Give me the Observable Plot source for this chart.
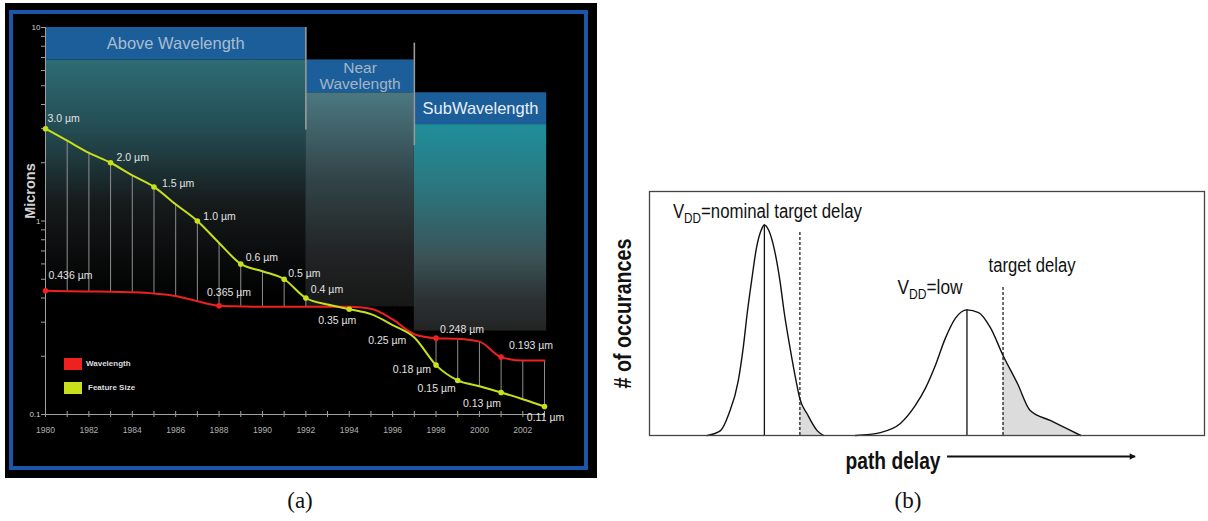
<!DOCTYPE html>
<html><head><meta charset="utf-8">
<script src="https://cdn.jsdelivr.net/npm/d3@7"></script>
<script src="https://cdn.jsdelivr.net/npm/@observablehq/plot@0.6"></script>
<style>
html,body{margin:0;padding:0;background:#fff;}
#root{position:relative;width:1208px;height:521px;overflow:hidden;background:#fff;}
.abs{position:absolute;}
.leg{position:absolute;font:bold 8px 'Liberation Sans',Arial,sans-serif;color:#ddd;line-height:10px;}
.cap{position:absolute;font:23px 'Liberation Serif','DejaVu Serif',serif;color:#111;transform:translateX(-50%);}
</style></head><body><div id="root"></div>
<script>
// ================= Panel (a): lithography wavelength vs feature size =================
const years = [1980,1981,1982,1983,1984,1985,1986,1987,1988,1989,1990,1991,1992,1993,1994,1995,1996,1997,1998,1999,2000,2001,2002,2003];
const wavelength = [0.436,0.434,0.432,0.431,0.428,0.422,0.41,0.385,0.365,0.362,0.36,0.36,0.36,0.36,0.36,0.352,0.31,0.26,0.248,0.246,0.238,0.198,0.19,0.19];
const featureSize = [3.0,2.6,2.25,2.0,1.72,1.5,1.22,1.0,0.77,0.6,0.55,0.5,0.4,0.37,0.35,0.33,0.29,0.25,0.18,0.15,0.14,0.13,0.12,0.11];
const featureLabelYears = [1980,1983,1985,1987,1989,1991,1992,1994,1997,1998,1999,2001,2003];
const featureLabels = ["3.0 µm","2.0 µm","1.5 µm","1.0 µm","0.6 µm","0.5 µm","0.4 µm","0.35 µm","0.25 µm","0.18 µm","0.15 µm","0.13 µm","0.11 µm"];
const featureDotYears = [1980,1983,1985,1987,1989,1991,1992,1994,1998,1999,2001,2003];
const wavelengthLabelYears = [1980,1988,1998,2001];
const wavelengthLabels = ["0.436 µm","0.365 µm","0.248 µm","0.193 µm"];
const connectorYears = [1981,1982,1983,1984,1985,1986,1987,1988,1989,1990,1991,1992,1998,1999,2000,2001,2002,2003];
const regionNames = ["Above Wavelength","Near\nWavelength","SubWavelength"];
const regionFrom = [1980,1992,1997];
const regionTo = [1992,1997,2003.1];
const headerTop = [10,6.8,4.6];
const headerBottom = [6.8,4.6,3.15];
const bodyBottom = [0.39,0.36,0.27];
const dividerYears = [1992,1997];
const dividerTop = [10,8.3];
const dividerBottom = [2.95,2.45];
const yTicks = [0.1,0.2,0.3,0.4,0.5,0.6,0.7,0.8,0.9,1,2,3,4,5,6,7,8,9,10];
const yTickLabels = [0.1,1,10];
const legendNames = ["Wavelength","Feature Size"];

// ================= Panel (b): path delay distributions =================
const nominalDelay = [10.4,12.8,14.3,16.0,16.9,17.6,18.4,19.3,20.1,20.7,21.5,22.4,23.5,24.3,25.3,26.4,27.1,28.4,30.2,31.4];
const nominalCount = [0,0.02,0.089,0.225,0.362,0.5,0.635,0.772,0.84,0.863,0.84,0.772,0.635,0.5,0.362,0.225,0.15,0.089,0.02,0];
const lowDelay = [37.1,41.6,45.2,47.9,49.7,51.5,53.3,55.1,57.2,59.3,61.4,63.7,66.3,68.6,72.3,75.3,77.7];
const lowCount = [0,0.012,0.049,0.123,0.193,0.287,0.398,0.48,0.515,0.504,0.443,0.328,0.213,0.102,0.061,0.027,0];
const peakDelay = [20.7,57.2];
const peakCount = [0.863,0.515];
const targetDelay = [27.1,63.7];
const targetTop = [0.84,0.61];
const peakTexts = ["V_DD=nominal target delay","V_DD=low"];
const targetText = "target delay";
const yLabelB = "# of occurances";
const xLabelB = "path delay";
const arrowFrom = 53.7, arrowTo = 87.6, arrowLevel = -0.086;

// ---------------- build panel (a) ----------------
const A = years.map((year,i)=>({year, wavelength: wavelength[i], feature: featureSize[i]}));
const byYear = new Map(A.map(d=>[d.year,d]));
const regions = regionNames.map((name,i)=>({name, from: regionFrom[i], to: regionTo[i], top: headerTop[i], hb: headerBottom[i], bottom: bodyBottom[i]}));
const dividers = dividerYears.map((year,i)=>({year, top: dividerTop[i], bottom: dividerBottom[i]}));
const fLab = featureLabelYears.map((y,i)=>({year:y, v: byYear.get(y).feature, text: featureLabels[i]}));
const wLab = wavelengthLabelYears.map((y,i)=>({year:y, v: byYear.get(y).wavelength, text: wavelengthLabels[i]}));
const yellow = "#c8e01c", red = "#ee2020";
// label layout: [textAnchor, dx, dy]
const fLayout = [["start",2,-10],["start",6,-5],["start",8,-3],["start",6,-4],["start",5,-6],["start",4,-6],["start",5,-8],["middle",-12,11],["end",-8,3],["end",-5,5],["end",-2,8],["end",0,11],["middle",1,11]];
const wLayout = [["start",3,-15],["start",-12,-13],["start",4,-9],["start",8,-11]];
const regionTextFill = ["#a9bdd0","#a3b5c6","#e8eef4"];
const regionFont = [16.5,15.5,16.5];
const labFont = 10.5;

const plotA = Plot.plot({
  width: 592, height: 475, marginLeft: 40, marginRight: 53, marginTop: 24, marginBottom: 64,
  style: {background:"#000", color:"#bbb", fontFamily:"'Liberation Sans', Arial, sans-serif", overflow:"visible"},
  x: {domain:[1980,2003]},
  y: {type:"log", domain:[0.1,10]},
  marks: [
    ...regions.map((r,i)=>Plot.rect([r], {x1:"from", x2:"to", y1:"bottom", y2:"hb", fill:`url(#regGrad${i})`})),
    Plot.rect(regions, {x1:"from", x2:"to", y1:"hb", y2:"top", fill:"#1b5e9a"}),
    ...regions.map((r,i)=>Plot.text([r], {x: d=>(d.from+d.to)/2, y: d=>Math.sqrt(d.top*d.hb), text:"name", fill: regionTextFill[i], fontSize:regionFont[i], lineHeight:1.03})),
    Plot.ruleX(dividers, {x:"year", y1:"bottom", y2:"top", stroke:"#9a9a9a", strokeWidth:1.6}),
    Plot.ruleX(A.filter(d=>connectorYears.includes(d.year)), {x:"year", y1:"wavelength", y2:"feature", stroke:"#8e8e8e", strokeWidth:1}),
    Plot.ruleX([years[0]], {stroke:"#a0a0a0", strokeWidth:1}),
    Plot.ruleY([yTickLabels[0]], {stroke:"#a0a0a0", strokeWidth:1}),
    Plot.axisY({ticks: yTicks, tickFormat: d => yTickLabels.includes(d) ? String(d) : "", tickSize:4, tickPadding:1, fontSize:8, stroke:"#a0a0a0", fill:"#cfcfcf", label:null}),
    Plot.axisX({ticks: years, tickFormat: d => d%2===0 ? String(d) : "", tickSize:6, dy:-3, tickPadding:9, fontSize:8.5, stroke:"#a0a0a0", fill:"#b0b0b0", label:null}),
    Plot.line(A, {x:"year", y:"wavelength", stroke:red, strokeWidth:2, curve:"monotone-x"}),
    Plot.line(A, {x:"year", y:"feature", stroke:yellow, strokeWidth:2, curve:"monotone-x"}),
    Plot.dot(A.filter(d=>featureDotYears.includes(d.year)), {x:"year", y:"feature", r:2.8, fill:yellow}),
    Plot.dot(wLab, {x:"year", y:"v", r:2.8, fill:red}),
    ...fLab.map((d,i)=>Plot.text([d], {x:"year", y:"v", text:"text", textAnchor:fLayout[i][0], dx:fLayout[i][1], dy:fLayout[i][2], fill:"#e2e2e2", fontSize:labFont})),
    ...wLab.map((d,i)=>Plot.text([d], {x:"year", y:"v", text:"text", textAnchor:wLayout[i][0], dx:wLayout[i][1], dy:wLayout[i][2], fill:"#e2e2e2", fontSize:labFont})),
    Plot.text(["Microns"], {frameAnchor:"left", textAnchor:"middle", rotate:-90, dx:-15, dy:-30, fontSize:14.5, fontWeight:"bold", fill:"#d2d2d2"})
  ]
});
plotA.insertAdjacentHTML("afterbegin", `<defs>
 <linearGradient id="regGrad0" x1="0" y1="0" x2="0" y2="1">
  <stop offset="0" stop-color="#2e6c75"/><stop offset="0.3" stop-color="#234b51"/><stop offset="0.6" stop-color="#161a1b"/><stop offset="1" stop-color="#000"/></linearGradient>
 <linearGradient id="regGrad1" x1="0" y1="0" x2="0" y2="1">
  <stop offset="0" stop-color="#4b7882"/><stop offset="0.4" stop-color="#324549"/><stop offset="0.75" stop-color="#222425"/><stop offset="1" stop-color="#171717"/></linearGradient>
 <linearGradient id="regGrad2" x1="0" y1="0" x2="0" y2="1">
  <stop offset="0" stop-color="#1f8e9a"/><stop offset="0.3" stop-color="#2b7780"/><stop offset="0.65" stop-color="#3a5256"/><stop offset="0.85" stop-color="#2b3133"/><stop offset="1" stop-color="#232323"/></linearGradient>
</defs>`);

// ---------------- build panel (b) ----------------
const nominal = nominalDelay.map((x,i)=>({delay:x, count:nominalCount[i]}));
const low = lowDelay.map((x,i)=>({delay:x, count:lowCount[i]}));
const peaks = peakDelay.map((x,i)=>({delay:x, count:peakCount[i], text: peakTexts[i]}));
const targets = targetDelay.map((x,i)=>({delay:x, top:targetTop[i]}));
const bFont = "'Liberation Sans', Arial, sans-serif";
const peakLayout = [[3,-7],[-37,-16]];
const plotB = Plot.plot({
  width: 608, height: 300, marginLeft: 49, marginRight: 4, marginTop: 11, marginBottom: 45,
  style: {background:"transparent", color:"#111", fontFamily: bFont, overflow:"visible"},
  x: {domain:[0,100], axis:null},
  y: {domain:[0,1], axis:null},
  marks: [
    Plot.areaY(nominal.filter(d=>d.delay>=targetDelay[0]), {x:"delay", y:"count", fill:"#dcdcdc", curve:"monotone-x"}),
    Plot.areaY(low.filter(d=>d.delay>=targetDelay[1]), {x:"delay", y:"count", fill:"#dcdcdc", curve:"monotone-x"}),
    Plot.line(nominal, {x:"delay", y:"count", stroke:"#111", strokeWidth:1.4, curve:"monotone-x"}),
    Plot.line(low, {x:"delay", y:"count", stroke:"#111", strokeWidth:1.4, curve:"monotone-x"}),
    Plot.ruleX(peaks, {x:"delay", y1:0, y2:"count", stroke:"#111", strokeWidth:1.3}),
    Plot.ruleX(targets, {x:"delay", y1:0, y2:"top", stroke:"#111", strokeWidth:1.2, strokeDasharray:"3,2"}),
    Plot.frame({stroke:"#444", strokeWidth:1.3}),
    ...peaks.map((d,i)=>Plot.text([d], {x:"delay", y:"count", text:"text", lineAnchor:"bottom", textAnchor:"middle", dx:peakLayout[i][0], dy:peakLayout[i][1], fontSize:20, fill:"#111"})),
    Plot.text([targets[1]], {x:"delay", y:"top", text:()=>targetText, lineAnchor:"bottom", dx:29, dy:-15, fontSize:20, fill:"#111"}),
    Plot.text([yLabelB], {frameAnchor:"left", textAnchor:"middle", rotate:-90, dx:-26, fontSize:23, fontWeight:"bold", fill:"#111"}),
    Plot.ruleY([arrowLevel], {x1:arrowFrom, x2:arrowTo, stroke:"#111", strokeWidth:2}),
    Plot.dot([arrowTo], {x:d=>d, y:()=>arrowLevel, symbol:"triangle2", rotate:90, r:3.2, dx:-4, fill:"#111"}),
    Plot.text([xLabelB], {x:()=>arrowFrom, y:()=>arrowLevel, textAnchor:"end", lineAnchor:"bottom", dx:-7, dy:13, fontSize:23, fontWeight:"bold", fill:"#111"})
  ]
});
// condensed lettering widths (the original uses a narrow typeface)
const narrowWidths = new Map([[peakTexts[0],189],[peakTexts[1],65],[targetText,87],[yLabelB,150],[xLabelB,95]]);
const ns = "http://www.w3.org/2000/svg";
plotB.querySelectorAll("text").forEach(t=>{
  const s = t.textContent;
  if (narrowWidths.has(s)) {
    t.setAttribute("textLength", narrowWidths.get(s));
    t.setAttribute("lengthAdjust", "spacingAndGlyphs");
  }
  if (s.includes("_DD")) {
    const [pre, rest] = s.split("_DD");
    t.textContent = "";
    t.appendChild(document.createTextNode(pre));
    const sub = document.createElementNS(ns,"tspan");
    sub.setAttribute("baseline-shift","-5"); sub.setAttribute("font-size","14"); sub.textContent = "DD";
    t.appendChild(sub);
    t.appendChild(document.createTextNode(rest));
  }
});

// ---------------- assemble ----------------
const root = document.getElementById("root");
const wrapA = document.createElement("div"); wrapA.className="abs"; wrapA.style.left="5px"; wrapA.style.top="3px";
wrapA.appendChild(plotA); root.appendChild(wrapA);
const border = document.createElement("div"); border.className="abs";
Object.assign(border.style,{left:"9px",top:"10px",width:"571px",height:"452px",border:"4px solid #1b56a8",pointerEvents:"none"});
root.appendChild(border);
[[red,358],[yellow,382]].forEach(([c,top],i)=>{
  const sw=document.createElement("div"); sw.className="abs";
  Object.assign(sw.style,{left:"64px",top:top+"px",width:"18px",height:"12px",background:c});
  root.appendChild(sw);
  const tx=document.createElement("div"); tx.className="leg"; tx.textContent=legendNames[i];
  Object.assign(tx.style,{left:(86+i*2)+"px",top:(top+1)+"px"});
  root.appendChild(tx);
});
const wrapB = document.createElement("div"); wrapB.className="abs"; wrapB.style.left="600px"; wrapB.style.top="180px";
wrapB.appendChild(plotB); root.appendChild(wrapB);
[["(a)",300],["(b)",908]].forEach(([s,x])=>{
  const c=document.createElement("div"); c.className="cap"; c.textContent=s;
  Object.assign(c.style,{left:x+"px",top:"488px"}); root.appendChild(c);
});
</script></body></html>
